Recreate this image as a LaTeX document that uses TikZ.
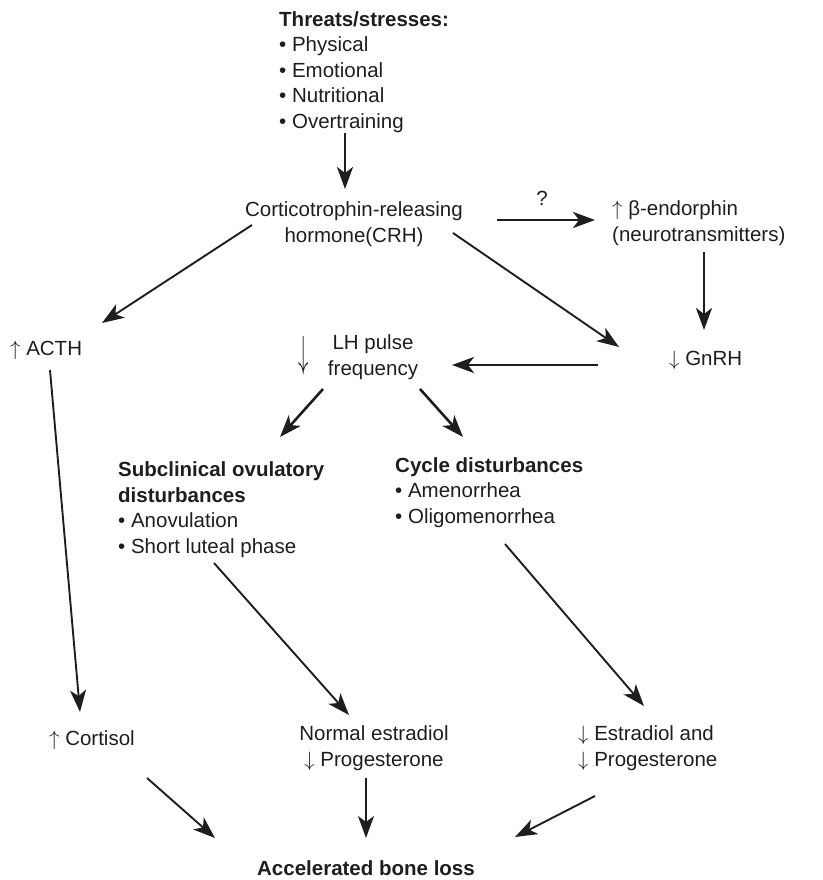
\documentclass[tikz,border=0pt]{standalone}
\usepackage{fontspec}
\setmainfont{Liberation Sans}
\usepackage{graphicx}
\usetikzlibrary{arrows.meta}
\definecolor{ink}{HTML}{1E1E1E}
\newcommand{\upa}{$\uparrow$\ }
\newcommand{\dna}{$\downarrow$\ }
\begin{document}
\begin{tikzpicture}[x=1pt,y=-1pt,
  txt/.style={inner sep=0pt,text=ink,font=\fontsize{20.5}{25.6}\selectfont},
  lft/.style={txt,anchor=base west,align=left},
  ctr/.style={txt,anchor=base,align=center},
  conn/.style={draw=ink,line width=1.9pt,-{Stealth[length=22pt,width=16pt,inset=6pt]}},
  thickconn/.style={conn,line width=2.6pt}]
\useasboundingbox (0,0) rectangle (822,880);
% texts (base anchor = baseline of the last line)
\node[lft] (thr) at (279,128.5) {\textbf{Threats/stresses:}\\• Physical\\• Emotional\\• Nutritional\\• Overtraining};
\node[ctr] (crh) at (354,242.5) {Corticotrophin-releasing\\hormone(CRH)};
\node[ctr] (q) at (542,205.5) {?};
\node[lft] (beta) at (612,241.5) {\upa β-endorphin\\(neurotransmitters)};
\node[lft] (acth) at (10,355.5) {\upa ACTH};
\node[txt,anchor=center] (lhar) at (304,356) {\scalebox{1}[2.1]{$\downarrow$}};
\node[ctr] (lh) at (373,375.5) {LH pulse\\frequency};
\node[lft] (gnrh) at (669,365.5) {\dna GnRH};
\node[lft] (sub) at (118,553.5) {\textbf{Subclinical ovulatory}\\\textbf{disturbances}\\• Anovulation\\• Short luteal phase};
\node[lft] (cyc) at (395,523.5) {\textbf{Cycle disturbances}\\• Amenorrhea\\• Oligomenorrhea};
\node[lft] (cort) at (49,745.5) {\upa Cortisol};
\node[ctr] (norm) at (374,766.5) {Normal estradiol\\\dna Progesterone};
\node[lft] (estr) at (578,766.5) {\dna Estradiol and\\\dna Progesterone};
\node[ctr] (bone) at (366,875.5) {\textbf{Accelerated bone loss}};
% connector end points
\coordinate (thrS) at (345,133);   \coordinate (crhN) at (345,189);
\coordinate (crhE) at (497,220);   \coordinate (betaW) at (595,220);
\coordinate (crhSW) at (252,225);  \coordinate (acthNE) at (102,323);
\coordinate (crhSE) at (453,233);  \coordinate (gnrhNW) at (619,347);
\coordinate (betaS) at (704,252);  \coordinate (gnrhN) at (704,330);
\coordinate (gnrhW) at (598,365);  \coordinate (lhE) at (452,365);
\coordinate (acthS) at (50,370);   \coordinate (cortN) at (80,712);
\coordinate (lhSW) at (323,389);   \coordinate (subN) at (280,437);
\coordinate (lhSE) at (420,389);   \coordinate (cycN) at (463,437);
\coordinate (subS) at (214,563);   \coordinate (normN) at (349,715);
\coordinate (cycS) at (505,544);   \coordinate (estrN) at (644,706);
\coordinate (cortS) at (147,778);  \coordinate (boneNW) at (215,838);
\coordinate (normS) at (366,778);  \coordinate (boneN) at (366,838);
\coordinate (estrS) at (595,796);  \coordinate (boneNE) at (515,837);
% connectors
\draw[thickconn] (thrS) -- (crhN);
\draw[thickconn] (crhE) -- (betaW);
\draw[conn] (crhSW) -- (acthNE);
\draw[conn] (crhSE) -- (gnrhNW);
\draw[thickconn] (betaS) -- (gnrhN);
\draw[thickconn] (gnrhW) -- (lhE);
\draw[conn] (acthS) -- (cortN);
\draw[thickconn] (lhSW) -- (subN);
\draw[thickconn] (lhSE) -- (cycN);
\draw[conn] (subS) -- (normN);
\draw[conn] (cycS) -- (estrN);
\draw[conn] (cortS) -- (boneNW);
\draw[conn] (normS) -- (boneN);
\draw[conn] (estrS) -- (boneNE);
\end{tikzpicture}
\end{document}
